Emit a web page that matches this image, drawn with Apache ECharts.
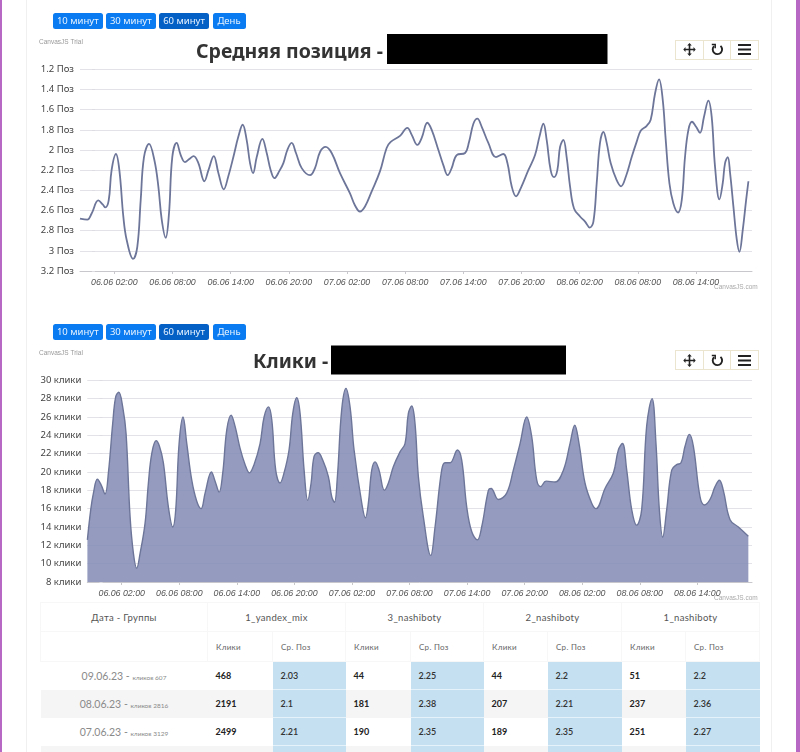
<!DOCTYPE html>
<html>
<head>
<meta charset="utf-8">
<script src="https://cdn.jsdelivr.net/npm/echarts@6/dist/echarts.min.js"></script>
<style>
  html, body { margin: 0; padding: 0; background: #fff; }
  #page { position: relative; width: 800px; height: 752px; overflow: hidden; background: #fff; }
  .edge { position: absolute; top: 0; bottom: 0; background: #b768c4; }
  .panel { position: absolute; left: 26px; top: 0; width: 746px; height: 752px; border-left: 1px solid #f0f0f0; border-right: 1px solid #f0f0f0; box-sizing: border-box; }
  .chart { position: absolute; left: 0; width: 800px; }
  .btns { position: absolute; left: 53px; display: flex; gap: 3.5px; }
  .btns span { height: 16px; line-height: 16px; background: #0a7bf0; color: #e8f3ff; border-radius: 2.5px; font: 9.5px/16px "Noto Sans", sans-serif; text-align: center; }
  .btns span.on { background: #0560c6; }
  .tools { position: absolute; left: 675px; width: 84px; height: 20px; display: flex; border: 1px solid #ebe5cf; box-sizing: border-box; background: #fff; }
  .tools div { flex: 1; border-right: 1px solid #ebe5cf; display: flex; align-items: center; justify-content: center; }
  .tools div:last-child { border-right: 0; }
  table { position: absolute; left: 40px; top: 602px; width: 719px; table-layout: fixed; border-collapse: collapse; font-family: Lato, "Noto Sans", sans-serif; }
  th { font-weight: 400; color: #555; border: 1px solid #f7f7f7; padding: 0; box-sizing: border-box; }
  .h1 th { height: 29px; font-size: 9.5px; letter-spacing: .3px; }
  .h2 th { height: 30px; font-size: 8px; color: #666; text-align: left; padding-left: 8px; letter-spacing: .3px; }
  td { height: 28px; padding: 0 0 0 8px; box-sizing: border-box; font-size: 9px; font-weight: 700; color: #222; }
  td.date { text-align: center; padding: 0; font-weight: 400; color: #8a8a8a; font-size: 10.5px; }
  td.date small { font-size: 6.5px; }
  td.pos { background: #c5e0f1; border-top: 1px solid #e6f2fa; font-weight: 600; color: #333; }
  tr.alt td { background: #f5f5f5; }
  tr.alt td.pos { background: #c5e0f1; }
</style>
</head>
<body>
<div id="page">
  <div class="panel"></div>
  <div class="edge" style="left:0;width:2px"></div>
  <div class="edge" style="right:0;width:4px"></div>
  <div id="positionChart" class="chart" style="top:0;height:300px"></div>
  <div id="clicksChart" class="chart" style="top:310px;height:290px"></div>
  <div class="btns" style="top:13px"></div>
  <div class="btns" style="top:323.5px"></div>
  <div class="tools" style="top:39.5px"></div>
  <div class="tools" style="top:350px"></div>
  <table id="stats"></table>
</div>
<script>
// hours counted from 06.06 00:00
const positionHours = [
  -1.54, -0.78, -0.34, 0.35, 0.80, 1.07, 1.42, 1.72, 2.17, 2.52,
  2.93, 3.27, 3.93, 4.37, 4.72, 5.06, 5.58, 6.13, 6.54, 6.89,
  7.30, 7.64, 7.98, 8.43, 8.85, 9.29, 9.74, 10.18, 10.67, 11.29,
  11.71, 12.26, 12.74, 13.29, 13.76, 14.28, 14.79, 15.24, 15.65, 16.0,
  16.31, 16.69, 17.27, 17.72, 18.13, 18.51, 19.02, 19.44, 19.85, 20.29,
  20.74, 21.33, 22.19, 22.70, 23.22, 23.80, 24.42, 25.28, 26.31, 26.83,
  27.34, 27.86, 28.55, 29.41, 30.09, 30.51, 31.47, 32.23, 32.68, 33.26,
  33.71, 34.29, 34.74, 35.43, 35.94, 36.39, 36.80, 37.32, 38.18, 38.59,
  39.04, 39.45, 39.90, 40.58, 41.37, 42.13, 42.55, 42.99, 43.44, 43.92,
  44.71, 45.40, 45.85, 46.26, 46.60, 47.01, 47.36, 47.70, 47.98, 48.32,
  48.66, 49.01, 49.42, 50.04, 50.56, 51.04, 51.42, 51.76, 52.10, 52.45,
  52.79, 53.20, 53.82, 54.27, 54.78, 55.37, 55.88, 56.30, 56.92, 57.33,
  57.78, 58.19, 58.57, 58.88, 59.26, 59.67, 60.15, 60.53, 60.87, 61.22,
  61.59, 62.01, 62.42, 62.83, 63.28, 63.62, 63.97, 64.42, 64.76, 65.0,
  65.28, 65.52, 65.86, 66.21, 66.48, 66.83, 67.17, 67.41
];
const positionValues = [
  2.68, 2.69, 2.63, 2.50, 2.54, 2.57, 2.50, 2.20, 2.04, 2.20,
  2.66, 2.89, 3.08, 2.96, 2.50, 2.07, 1.94, 2.10, 2.36, 2.69,
  2.87, 2.63, 2.07, 1.93, 2.05, 2.12, 2.09, 2.06, 2.13, 2.31,
  2.20, 2.06, 2.23, 2.39, 2.26, 2.07, 1.87, 1.75, 1.90, 2.13,
  2.23, 2.07, 1.89, 2.03, 2.20, 2.28, 2.21, 2.13, 2.00, 1.93,
  2.03, 2.18, 2.25, 2.18, 2.02, 1.97, 2.03, 2.23, 2.43, 2.55,
  2.61, 2.56, 2.41, 2.21, 1.98, 1.92, 1.86, 1.78, 1.85, 1.95,
  1.88, 1.73, 1.80, 2.00, 2.15, 2.25, 2.18, 2.05, 2.03, 1.92,
  1.74, 1.69, 1.77, 1.93, 2.07, 2.04, 2.13, 2.36, 2.46, 2.38,
  2.20, 2.05, 1.87, 1.74, 1.90, 2.20, 2.27, 2.20, 1.97, 1.90,
  2.07, 2.36, 2.58, 2.66, 2.71, 2.77, 2.71, 2.33, 1.93, 1.82,
  1.93, 2.13, 2.30, 2.36, 2.26, 2.07, 1.92, 1.81, 1.76, 1.70,
  1.44, 1.30, 1.50, 1.90, 2.33, 2.53, 2.62, 2.50, 2.07, 1.80,
  1.72, 1.77, 1.83, 1.67, 1.51, 1.67, 2.17, 2.49, 2.33, 2.13,
  2.07, 2.23, 2.56, 2.89, 3.01, 2.79, 2.50, 2.31
];
const clicksHours = [
  -1.58, -1.23, -0.95, -0.54, -0.15, 0.26, 0.61, 1.06, 1.37, 1.69,
  2.10, 2.45, 2.87, 3.22, 3.56, 3.91, 4.43, 4.78, 5.13, 5.58,
  5.93, 6.34, 6.86, 7.32, 7.63, 7.98, 8.39, 8.78, 9.30, 9.82,
  10.27, 10.69, 11.35, 11.73, 12.15, 12.53, 12.95, 13.40, 13.81, 14.33,
  14.86, 15.31, 15.79, 16.42, 16.84, 17.29, 17.64, 18.05, 18.50, 18.92,
  19.44, 19.83, 20.24, 20.59, 21.01, 21.39, 21.74, 22.05, 22.47, 22.95,
  23.54, 23.89, 24.17, 24.48, 24.93, 25.38, 25.80, 26.22, 27.02, 27.40,
  27.71, 28.06, 28.41, 28.82, 29.38, 29.80, 30.32, 31.01, 31.53, 31.88,
  32.23, 32.57, 32.92, 33.44, 34.21, 34.66, 35.35, 35.70, 36.22, 36.99,
  37.44, 37.96, 38.48, 39.07, 39.52, 40.22, 40.50, 41.26, 42.13, 42.82,
  43.52, 44.21, 44.73, 45.26, 45.67, 46.23, 47.17, 48.04, 48.73, 49.22,
  49.67, 50.29, 50.99, 51.44, 52.38, 53.25, 53.77, 54.19, 54.64, 55.16,
  55.68, 56.20, 56.72, 57.28, 57.69, 58.04, 58.39, 58.81, 59.33, 59.85,
  60.30, 60.72, 61.17, 61.59, 62.28, 62.73, 63.32, 63.85, 64.30, 64.71,
  65.41, 66.28, 67.32
];
const clicksValues = [
  12.6, 15.9, 17.7, 19.2, 18.6, 17.6, 19.9, 25.3, 28.2, 28.7,
  27.1, 24.2, 15.1, 11.1, 9.5, 11.1, 14.4, 18.8, 22.0, 23.4,
  22.8, 21.0, 16.2, 14.0, 15.9, 23.1, 26.0, 23.1, 19.1, 16.8,
  16.0, 17.7, 20.0, 19.0, 17.8, 19.9, 24.6, 26.2, 25.0, 22.6,
  20.8, 19.9, 20.8, 23.1, 26.0, 27.1, 25.7, 20.2, 18.8, 19.9,
  22.4, 26.4, 28.1, 26.4, 20.2, 16.9, 18.8, 21.7, 22.1, 21.3,
  19.5, 17.3, 16.7, 19.5, 26.8, 29.1, 27.1, 22.4, 16.6, 15.0,
  16.6, 20.2, 21.1, 20.2, 18.0, 18.8, 20.6, 22.2, 23.1, 26.4,
  27.2, 25.3, 19.5, 15.1, 10.9, 14.0, 20.2, 21.0, 21.0, 22.4,
  21.3, 16.2, 13.5, 12.6, 14.0, 18.0, 18.2, 17.0, 17.7, 20.2,
  23.1, 26.0, 23.9, 19.1, 18.4, 19.0, 18.9, 20.2, 23.1, 25.1,
  23.1, 18.8, 16.6, 16.0, 18.2, 19.9, 22.4, 23.1, 20.2, 15.9,
  14.2, 15.9, 25.0, 28.0, 23.1, 15.9, 12.9, 15.9, 20.2, 20.8,
  21.0, 22.8, 24.1, 22.8, 17.3, 16.4, 17.0, 18.4, 19.1, 18.0,
  14.8, 14.0, 13.0
];

const tickHours = [2, 8, 14, 20, 26, 32, 38, 44, 50, 56, 62];
const tickLabels = ['06.06 02:00', '06.06 08:00', '06.06 14:00', '06.06 20:00', '07.06 02:00', '07.06 08:00',
  '07.06 14:00', '07.06 20:00', '08.06 02:00', '08.06 08:00', '08.06 14:00'];

const rangeButtons = ['10 минут', '30 минут', '60 минут', 'День'];
const rangeWidths = [49.5, 49.5, 50, 33];

const groups = ['1_yandex_mix', '3_nashiboty', '2_nashiboty', '1_nashiboty'];
const dates = ['09.06.23', '08.06.23', '07.06.23'];
const dayClicks = [607, 2816, 3129];
const tableRows = [
  [468, 2.03, 44, 2.25, 44, 2.2, 51, 2.2],
  [2191, 2.1, 181, 2.38, 207, 2.21, 237, 2.36],
  [2499, 2.21, 190, 2.35, 189, 2.35, 251, 2.27]
];

function pairs(xs, ys) {
  return xs.map((x, i) => [x, ys[i]]);
}

function makeChart(id, cfg) {
  const chart = echarts.init(document.getElementById(id));
  chart.setOption({
    animation: false,
    title: {
      text: cfg.title, left: cfg.titleLeft, top: cfg.titleTop,
      textStyle: { fontFamily: '"Noto Sans"', fontSize: 19.5, fontWeight: 'bold', color: '#333' }
    },
    grid: { left: cfg.left, top: cfg.top, width: 752 - cfg.left, height: 201.7 },
    xAxis: {
      type: 'value', min: cfg.xMin, max: cfg.xMax,
      axisLine: { onZero: false, lineStyle: { color: '#c8c8cc', width: 1 } },
      axisTick: { customValues: tickHours, length: 3, lineStyle: { color: '#c8c8cc' } },
      axisLabel: {
        customValues: tickHours, margin: 7,
        fontFamily: '"Liberation Sans"', fontStyle: 'italic', fontSize: 8.8, color: '#555',
        formatter: v => tickLabels[tickHours.indexOf(v)]
      },
      splitLine: { show: false }
    },
    yAxis: {
      type: 'value', min: cfg.yMin, max: cfg.yMax, interval: cfg.yStep, inverse: cfg.inverse,
      axisLine: { show: false },
      axisTick: { show: true, length: 3, lineStyle: { color: '#dcdce2' } },
      axisLabel: {
        margin: 6, fontFamily: '"Noto Sans"', fontSize: 9.5, color: '#444',
        formatter: v => +v.toFixed(1) + ' ' + cfg.unit
      },
      splitLine: { lineStyle: { color: '#e2e2e8', width: 1 } }
    },
    series: [{
      type: 'line',
      data: pairs(cfg.hours, cfg.values),
      showSymbol: false,
      smooth: 0.4,
      lineStyle: { color: '#6d7699', width: cfg.lineWidth },
      areaStyle: cfg.area ? { color: '#8890b8', opacity: 0.9 } : undefined
    }],
    graphic: [
      { type: 'rect', shape: cfg.mask, style: { fill: '#000' } },
      { type: 'text', left: 39, top: cfg.top - 31, style: { text: 'CanvasJS Trial', fontSize: 6.5, fontFamily: '"Liberation Sans"', fill: '#999' } },
      { type: 'text', left: 714, top: cfg.top + 214, style: { text: 'CanvasJS.com', fontSize: 6.5, fontFamily: '"Liberation Sans"', fill: '#aaa' } }
    ]
  });
}

makeChart('positionChart', {
  title: 'Средняя позиция -', titleLeft: 191, titleTop: 37,
  mask: { x: 387, y: 34, width: 220.5, height: 30 },
  left: 80, top: 69.3, xMin: -1.54, xMax: 67.78,
  yMin: 1.2, yMax: 3.2, yStep: 0.2, inverse: true, unit: 'Поз',
  hours: positionHours, values: positionValues, lineWidth: 1.8, area: false
});

makeChart('clicksChart', {
  title: 'Клики -', titleLeft: 248, titleTop: 37,
  mask: { x: 331, y: 35.5, width: 235, height: 29 },
  left: 87.3, top: 70.3, xMin: -1.59, xMax: 67.7,
  yMin: 8, yMax: 30, yStep: 2, inverse: false, unit: 'клики',
  hours: clicksHours, values: clicksValues, lineWidth: 1.4, area: true
});

// buttons above each chart
document.querySelectorAll('.btns').forEach(box => {
  box.innerHTML = rangeButtons.map((b, i) =>
    '<span class="' + (i === 2 ? 'on' : '') + '" style="width:' + rangeWidths[i] + 'px">' + b + '</span>').join('');
});

// canvasjs toolbar icons
const panIcon = '<svg width="13" height="13" viewBox="0 0 13 13" fill="#222"><path d="M5.7 2.5h1.6v3.2h3.2V4l2.2 2.5-2.2 2.5V7.3H7.3v3.2h1.5L6.5 13l-2.3-2.5h1.5V7.3H2.5V9L.3 6.5 2.5 4v1.7h3.2V2.5H4.2L6.5 0l2.3 2.5z"/></svg>';
const resetIcon = '<svg width="13" height="13" viewBox="0 0 13 13" fill="none" stroke="#222" stroke-width="1.9"><path d="M3 3.2A4.7 4.7 0 1 0 9.5 2.9"/><path d="M.8 1.6h3.4v3.6" stroke-width="1.5"/></svg>';
const menuIcon = '<svg width="13" height="11" viewBox="0 0 13 11" fill="#222"><rect width="13" height="2"/><rect y="4.5" width="13" height="2"/><rect y="9" width="13" height="2"/></svg>';
document.querySelectorAll('.tools').forEach(box => {
  box.innerHTML = [panIcon, resetIcon, menuIcon].map(i => '<div>' + i + '</div>').join('');
});

// table under the charts
let html = '<colgroup><col style="width:167px">';
[[65, 73], [65, 73], [64, 74], [64, 74]].forEach(c => {
  html += '<col style="width:' + c[0] + 'px"><col style="width:' + c[1] + 'px">';
});
html += '</colgroup><tr class="h1"><th>Дата - Группы</th>';
groups.forEach(g => { html += '<th colspan="2">' + g + '</th>'; });
html += '</tr><tr class="h2"><th></th>';
groups.forEach(() => { html += '<th>Клики</th><th>Ср. Поз</th>'; });
html += '</tr>';
tableRows.forEach((row, r) => {
  html += '<tr class="' + (r % 2 ? 'alt' : '') + '"><td class="date">' + dates[r] + ' - <small>кликов ' + dayClicks[r] + '</small></td>';
  row.forEach((v, i) => { html += '<td class="' + (i % 2 ? 'pos' : '') + '">' + v + '</td>'; });
  html += '</tr>';
});
html += '<tr class="alt"><td></td>' + '<td></td><td class="pos"></td>'.repeat(4) + '</tr>';
document.getElementById('stats').innerHTML = html;
</script>
</body>
</html>
